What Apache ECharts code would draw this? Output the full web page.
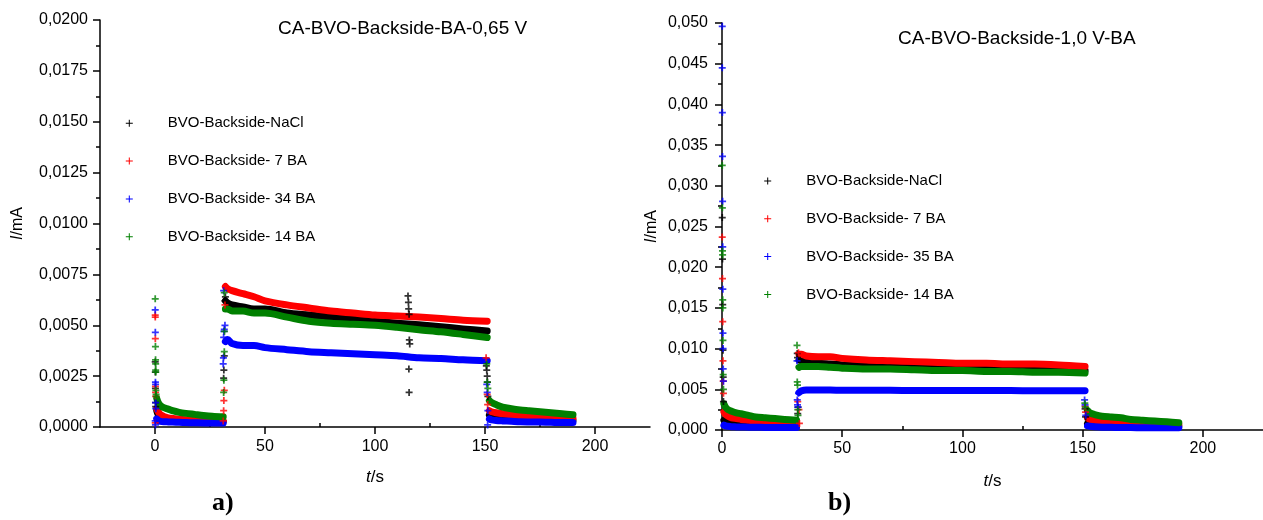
<!DOCTYPE html>
<html><head><meta charset="utf-8">
<script src="https://cdn.jsdelivr.net/npm/echarts@6/dist/echarts.min.js"></script>
<style>html,body{margin:0;padding:0;background:#fff}#c{width:1263px;height:520px}</style>
</head><body><div id="c"></div><script>
// ---------- DATA: chart a) CA-BVO-Backside-BA-0,65 V ----------
const titleA = 'CA-BVO-Backside-BA-0,65 V';
const namesA = ['BVO-Backside-NaCl', 'BVO-Backside- 7 BA', 'BVO-Backside- 34 BA', 'BVO-Backside- 14 BA'];
// time samples (s); null values in the series mark the gaps between the potential steps
const tA = [0.8,1.5,2.5,4,6,8,11,14,18,22,26,31, 31.5,
            32,33,35,40,45,50,60,70,80,90,100,110,120,130,140,151, 151.5,
            152,153,155,158,162,166,170,175,180,185,190];
const aNaCl = [0.0008,0.0006,0.0005,0.00045,0.0004,0.00038,0.00035,0.00033,0.0003,0.0003,0.00028,0.00027, null,
               0.0062,0.0061,0.006,0.0059,0.0058,0.0058,0.0056,0.0055,0.0054,0.0053,0.0052,0.0051,0.00502,0.00493,0.00482,0.00472, null,
               0.0006,0.00055,0.0005,0.00045,0.00042,0.0004,0.00038,0.00036,0.00034,0.00033,0.00032];
const a7BA = [0.0009,0.00075,0.0006,0.00052,0.00045,0.00042,0.00038,0.00035,0.00032,0.0003,0.0003,0.00028, null,
              0.0069,0.0068,0.0067,0.00655,0.0064,0.0062,0.006,0.00585,0.0057,0.0056,0.0055,0.00545,0.0054,0.00533,0.00525,0.0052, null,
              0.0008,0.00075,0.0007,0.00065,0.0006,0.00056,0.00052,0.0005,0.00047,0.00045,0.00043];
const a34BA = [0.0004,0.00032,0.00028,0.00026,0.00025,0.00024,0.00023,0.00022,0.00021,0.0002,0.0002,0.0002, null,
               0.0042,0.0043,0.0041,0.004,0.004,0.0039,0.0038,0.0037,0.00365,0.0036,0.00355,0.0035,0.0034,0.00337,0.0033,0.00326, null,
               0.0004,0.00035,0.00032,0.0003,0.00028,0.00026,0.00025,0.00024,0.00023,0.00022,0.00022];
const a14BA = [0.0014,0.0012,0.00105,0.00095,0.00088,0.0008,0.00072,0.00067,0.00062,0.00057,0.00053,0.0005, null,
               0.0058,0.0058,0.0057,0.0057,0.0056,0.0056,0.0054,0.0052,0.0051,0.00505,0.005,0.0049,0.00478,0.00468,0.00455,0.0044, null,
               0.0013,0.0012,0.0011,0.00098,0.0009,0.00084,0.0008,0.00075,0.0007,0.00065,0.0006];
// isolated transient points [t, I]
const aNaClPts = [[0.1,0.0032],[0.15,0.0027],[0.2,0.0019],[0.25,0.0012],[0.3,0.001],
                  [31.2,0.0024],[31.3,0.0028],[31.5,0.0035],[31.8,0.0062],[32,0.0064],
                  [115,0.00644],[115.2,0.00613],[115.3,0.0058],[115.5,0.00554],[115.6,0.00428],[115.8,0.00408],[115.4,0.00285],[115.5,0.0017],
                  [150.6,0.003],[150.8,0.0028],[151,0.0025],[151.1,0.0022],[151.3,0.0015]];
const a7BAPts = [[0.1,0.0055],[0.12,0.0054],[0.15,0.00434],[0.2,0.002],[0.25,0.0017],[0.3,0.0015],[0.1,0.0002],
                 [31,0.0003],[31.2,0.0008],[31.3,0.0013],[31.5,0.0018],[31.8,0.006],
                 [150.5,0.0034],[151,0.0016],[151.2,0.0011]];
const a34BAPts = [[0.1,0.00575],[0.15,0.00465],[0.2,0.0022],[0.25,0.0021],[0.3,0.0012],[0.35,0.0009],[0.1,0.0003],[0.2,0.0001],
                  [31,0.0031],[31.1,0.0034],[31.2,0.0044],[31.3,0.0047],[31.2,0.0067],[31.5,0.0048],[31.8,0.005],
                  [150.8,0.0021],[151,0.0017],[151.3,0.0008],[151.2,0.0001]];
const a14BAPts = [[0.1,0.0063],[0.2,0.00395],[0.25,0.0033],[0.3,0.0031],[0.3,0.0028],[0.35,0.0027],[0.4,0.0018],[0.5,0.0016],[0.6,0.0015],
                  [31.2,0.0017],[31.3,0.0023],[31.5,0.0037],[31.6,0.0047],[31.5,0.0066],
                  [150.8,0.0031],[151,0.0022],[151.3,0.0019]];
const xTicksA = [0, 50, 100, 150, 200];
const xMinorA = [25, 75, 125, 175];

// ---------- DATA: chart b) CA-BVO-Backside-1,0 V-BA ----------
const titleB = 'CA-BVO-Backside-1,0 V-BA';
const namesB = ['BVO-Backside-NaCl', 'BVO-Backside- 7 BA', 'BVO-Backside- 35 BA', 'BVO-Backside- 14 BA'];
const tB = [0.8,1.5,2.5,4,6,8,11,14,18,22,26,31, 31.5,
            32,33,35,40,45,50,60,70,80,90,100,110,120,130,140,151, 151.5,
            152,153,155,158,162,166,170,175,180,185,190];
const bNaCl = [0.0012,0.001,0.0009,0.0008,0.0007,0.00065,0.0006,0.00055,0.0005,0.00048,0.00045,0.00043, null,
               0.0086,0.0085,0.0084,0.0082,0.0081,0.008,0.0079,0.0078,0.0077,0.0077,0.0077,0.0076,0.0075,0.0075,0.0074,0.0073, null,
               0.0008,0.0007,0.00065,0.0006,0.00058,0.00055,0.00053,0.0005,0.0005,0.00048,0.00047];
const b7BA = [0.0022,0.0019,0.0017,0.0015,0.0014,0.0013,0.0012,0.0011,0.001,0.00095,0.0009,0.00085, null,
              0.0093,0.0093,0.0091,0.009,0.009,0.0088,0.0086,0.0085,0.0084,0.0083,0.0082,0.0082,0.0081,0.0081,0.008,0.0078, null,
              0.0015,0.0013,0.0012,0.0011,0.001,0.0009,0.00085,0.0008,0.00075,0.0007,0.00065];
const b35BA = [0.0006,0.0005,0.00045,0.0004,0.00038,0.00036,0.00035,0.00033,0.00032,0.00031,0.0003,0.0003, null,
               0.0046,0.0048,0.0049,0.0049,0.0049,0.00489,0.00488,0.00487,0.00486,0.00485,0.00485,0.00484,0.00484,0.00483,0.00483,0.00482, null,
               0.0005,0.00045,0.0004,0.00035,0.00033,0.0003,0.0003,0.00028,0.00028,0.00027,0.00027];
const b14BA = [0.0032,0.0028,0.0025,0.0023,0.0021,0.002,0.0018,0.0016,0.0015,0.0014,0.0013,0.0012, null,
               0.0077,0.0078,0.0078,0.0078,0.0077,0.0076,0.0075,0.0075,0.0074,0.0073,0.0073,0.0072,0.0072,0.0071,0.0071,0.007, null,
               0.0024,0.0021,0.0019,0.0017,0.0016,0.0015,0.0013,0.0012,0.0011,0.001,0.0009];
const bNaClPts = [[0.1,0.0261],[0.2,0.021],[0.3,0.0154],[0.4,0.0098],[0.5,0.0065],[0.6,0.0035],
                  [31.3,0.0094],[31.4,0.0089],[31.5,0.002],[31.6,0.0028],
                  [151,0.0026],[151.2,0.0016]];
const b7BAPts = [[0.1,0.0237],[0.2,0.0186],[0.3,0.0133],[0.4,0.0085],[0.5,0.006],[0.6,0.0045],
                 [31.8,0.0095],[32,0.0025],[32.2,0.0008],[31.5,0.0035],
                 [151,0.0029],[151.2,0.0022]];
const b35BAPts = [[0.1,0.0496],[0.1,0.0445],[0.15,0.039],[0.2,0.0336],[0.25,0.0281],[0.3,0.0225],[0.35,0.0173],[0.4,0.0119],[0.45,0.01],[0.5,0.0075],[0.6,0.006],
                  [31.2,0.0085],[31.3,0.0037],[31.4,0.0031],[31.6,0.0028],[31.8,0.0045],
                  [150.8,0.0037],[151,0.0031],[151.3,0.0018]];
const b14BAPts = [[0.1,0.0325],[0.15,0.0273],[0.2,0.022],[0.25,0.0215],[0.3,0.016],[0.35,0.015],[0.4,0.011],[0.5,0.0068],[0.6,0.005],
                  [31.2,0.0104],[31.3,0.0059],[31.4,0.0055],[31.5,0.0025],[31.6,0.0018],
                  [150.9,0.0033],[151.1,0.0028]];
const xTicksB = [0, 50, 100, 150, 200];
const xMinorB = [25, 75, 125, 175];

// ---------- STYLE / BUILD ----------
const FONT = "'Liberation Sans', Arial, sans-serif";
const COLORS = ['#000000', '#ff0000', '#0000ff', '#008000'];
const PLUS = 'path://M3,0h2v3h3v2h-3v3h-2v-3h-3v-2h3z';
const PLUS_THIN = 'path://M3,0h1v3h3v1h-3v3h-1v-3h-3v-1h3z';

function band(name, color, xi, yi, t, v) {
  return { type: 'line', name, xAxisIndex: xi, yAxisIndex: yi,
    data: t.map((x, i) => [x, v[i] === null ? '-' : v[i]]),
    symbol: 'none', showSymbol: false, connectNulls: false, silent: true, animation: false,
    smooth: 0.3,
    lineStyle: { color, width: 7, cap: 'round', join: 'round' }, itemStyle: { color }, z: 2 };
}
function pts(name, color, xi, yi, p) {
  return { type: 'scatter', name, xAxisIndex: xi, yAxisIndex: yi, data: p,
    symbol: PLUS, symbolSize: 7, silent: true, animation: false, itemStyle: { color }, z: 3 };
}

const series = [];
[aNaCl, a7BA, a34BA, a14BA].forEach((v, k) => series.push(band(namesA[k], COLORS[k], 0, 0, tA, v)));
[bNaCl, b7BA, b35BA, b14BA].forEach((v, k) => series.push(band(namesB[k], COLORS[k], 2, 1, tB, v)));
[aNaClPts, a7BAPts, a34BAPts, a14BAPts].forEach((p, k) => series.push(pts(namesA[k], COLORS[k], 0, 0, p)));
[bNaClPts, b7BAPts, b35BAPts, b14BAPts].forEach((p, k) => series.push(pts(namesB[k], COLORS[k], 2, 1, p)));

const axLine = { show: true, onZero: false, lineStyle: { color: '#000', width: 1.5 } };
const tickStyle = { color: '#000', width: 1.5 };
const labelStyle = { color: '#000', fontSize: 16, fontFamily: FONT };

function xMajor(grid, min, max, ticks, margin, gap) {
  return { type: 'value', gridIndex: grid, min, max,
    axisLine: axLine,
    axisTick: { show: true, inside: false, length: 7, lineStyle: tickStyle, customValues: ticks },
    axisLabel: Object.assign({ margin, customValues: ticks, formatter: v => String(v) }, labelStyle),
    splitLine: { show: false },
    name: '{i|t}/s', nameLocation: 'middle', nameGap: gap,
    nameTextStyle: { color: '#000', fontSize: 17, fontFamily: FONT,
      rich: { i: { fontStyle: 'italic', fontSize: 17, fontFamily: FONT, color: '#000' } } } };
}
function xMinor(grid, min, max, ticks) {
  return { type: 'value', gridIndex: grid, min, max,
    axisLine: { show: false },
    axisTick: { show: true, inside: false, length: 4, lineStyle: tickStyle, customValues: ticks },
    axisLabel: { show: false }, splitLine: { show: false } };
}
function yAx(grid, max, interval, digits, margin, gap) {
  return { type: 'value', gridIndex: grid, min: 0, max, interval,
    axisLine: axLine,
    axisTick: { show: true, inside: false, length: 7, lineStyle: tickStyle },
    minorTick: { show: true, splitNumber: 2, length: 4, lineStyle: tickStyle },
    axisLabel: Object.assign({ margin, formatter: v => v.toFixed(digits).replace('.', ',') }, labelStyle),
    splitLine: { show: false }, minorSplitLine: { show: false },
    name: '{i|I}/mA', nameLocation: 'middle', nameGap: gap, nameRotate: 90,
    nameTextStyle: { color: '#000', fontSize: 16, fontFamily: FONT,
      rich: { i: { fontStyle: 'italic', fontSize: 16, fontFamily: FONT, color: '#000' } } } };
}
function legend(left, top, names) {
  return { orient: 'vertical', left, top, padding: 0, itemGap: 10.8, itemWidth: 7, itemHeight: 7,
    icon: PLUS_THIN, selectedMode: false, data: names,
    itemStyle: { borderWidth: 0 },
    textStyle: { color: '#000', fontSize: 15, fontFamily: FONT, lineHeight: 16, padding: [11, 0, 0, 30] } };
}

const option = {
  backgroundColor: '#ffffff',
  animation: false,
  title: [
    { text: titleA, left: 278, top: 19.5, padding: 0, textStyle: { color: '#000', fontSize: 19, fontWeight: 'normal', fontFamily: FONT } },
    { text: titleB, left: 898, top: 29.5, padding: 0, textStyle: { color: '#000', fontSize: 19, fontWeight: 'normal', fontFamily: FONT } }
  ],
  legend: [legend(125.8, 109.8, namesA), legend(764.2, 167.5, namesB)],
  grid: [
    { left: 100, top: 20, width: 550, height: 407, containLabel: false },
    { left: 722, top: 23, width: 546.75, height: 407, containLabel: false }
  ],
  xAxis: [
    xMajor(0, -25, 225, xTicksA, 12, 42),
    xMinor(0, -25, 225, xMinorA),
    xMajor(1, 0, 225, xTicksB, 11, 43),
    xMinor(1, 0, 225, xMinorB)
  ],
  yAxis: [
    yAx(0, 0.02, 0.0025, 4, 12, 74),
    yAx(1, 0.05, 0.005, 3, 14, 62)
  ],
  graphic: [
    { type: 'text', left: 212, top: 490, style: { text: 'a)', font: "bold 26px 'Liberation Serif', 'Times New Roman', serif", fill: '#000' } },
    { type: 'text', left: 828, top: 490, style: { text: 'b)', font: "bold 26px 'Liberation Serif', 'Times New Roman', serif", fill: '#000' } }
  ],
  series
};

const chart = echarts.init(document.getElementById('c'), null, { renderer: 'canvas' });
chart.setOption(option);
</script></body></html>
